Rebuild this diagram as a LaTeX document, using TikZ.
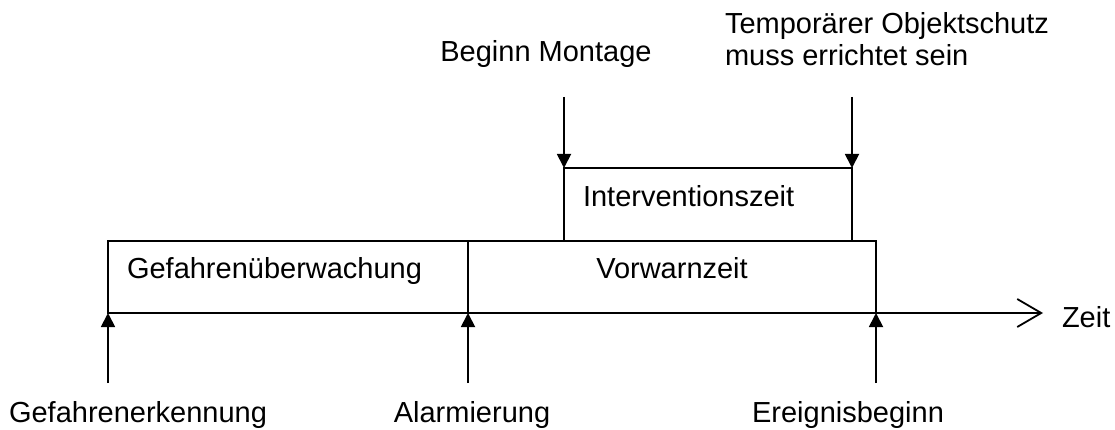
\documentclass[tikz,border=0pt]{standalone}
\usepackage{fontspec}
\setmainfont{Liberation Sans}
\usetikzlibrary{arrows.meta}
\begin{document}
\begin{tikzpicture}[x=1pt,y=-1pt,>={Triangle[width=14pt,length=14pt]},line join=miter,
  every node/.style={font=\fontsize{29}{32}\selectfont,inner sep=0pt,outer sep=0pt},
  phase/.style={draw,black,line width=1.8pt,anchor=north west,minimum height=72pt},
  event/.style={black,line width=1.8pt,->}]
\useasboundingbox (0,0) rectangle (1115,430);
%%
\node (ueberw) at (108,241) [phase,minimum width=360pt] {};
\node (vorwarn) at (468,241) [phase,minimum width=408pt] {};
\node (interv) at (564,168) [phase,minimum width=288pt,minimum height=73pt] {};
\node (ueberw_t) at (127,278) [anchor=base west] {Gefahren\"uberwachung};
\node (vorwarn_t) at (672,278) [anchor=base] {Vorwarnzeit};
\node (interv_t) at (583,207) [anchor=base west] {Interventionszeit};
%
\coordinate (zeit_end) at (1043,313);
\node (zeit) at (1062,327) [anchor=base west] {Zeit};
\draw [black,line width=1.8pt,-{Straight Barb[width=28pt,length=24pt,line width=1.8pt]}] (ueberw.south west) -- (zeit_end);
%
\coordinate (erk_start) at (108,383);
\coordinate (alarm_start) at (468,383);
\coordinate (ereig_start) at (876,383);
\node (erk) at (138,422) [anchor=base] {Gefahrenerkennung};
\node (alarm) at (472,422) [anchor=base] {Alarmierung};
\node (ereig) at (848,422) [anchor=base] {Ereignisbeginn};
\draw [event] (erk_start) -- (ueberw.south west);
\draw [event] (alarm_start) -- (vorwarn.south west);
\draw [event] (ereig_start) -- (vorwarn.south east);
%
\coordinate (mont_start) at (564,97);
\coordinate (schutz_start) at (852,97);
\node (mont) at (546,62) [anchor=base] {Beginn Montage};
\node (schutz) at (725,66) [anchor=base west,align=left] {Tempor\"arer Objektschutz\\muss errichtet sein};
\draw [event] (mont_start) -- (interv.north west);
\draw [event] (schutz_start) -- (interv.north east);
%
\end{tikzpicture}
\end{document}
